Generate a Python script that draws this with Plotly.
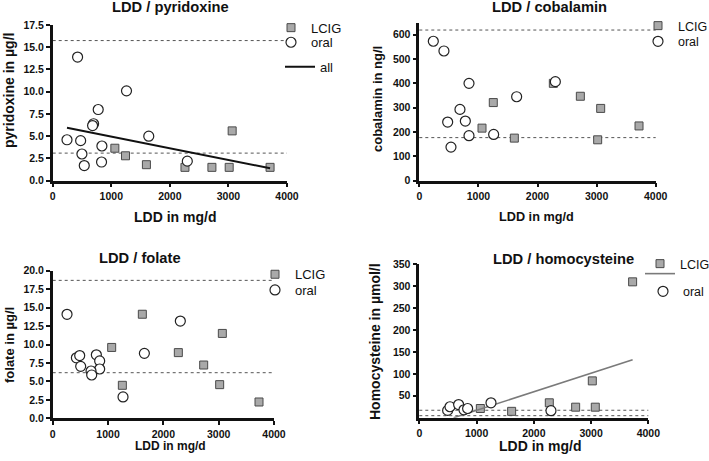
import plotly.graph_objects as go

W, H = 709, 461

# ---------------- data ----------------
pyr_oral_x = [425, 1260, 777, 698, 681, 244, 477, 840, 1640, 499, 539, 834, 2298]
pyr_oral_y = [13.9, 10.1, 8.0, 6.4, 6.2, 4.6, 4.5, 3.9, 5.0, 3.0, 1.7, 2.1, 2.2]
pyr_lcig_x = [1061, 1243, 1600, 2258, 2718, 3013, 3064, 3711]
pyr_lcig_y = [3.65, 2.8, 1.8, 1.5, 1.5, 1.5, 5.6, 1.5]
pyr_fit_x = [244, 3711]
pyr_fit_y = [5.95, 1.4]
pyr_ref = [3.1, 15.75]

cob_oral_x = [237, 417, 841, 688, 480, 779, 841, 536, 1258, 1647, 2302]
cob_oral_y = [573, 533, 400, 293, 241, 245, 185, 138, 190, 345, 407]
cob_lcig_x = [1061, 1252, 1608, 2268, 2725, 3069, 3018, 3718]
cob_lcig_y = [216, 321, 175, 400, 347, 297, 168, 225]
cob_ref = [177, 619]

fol_oral_x = [259, 2307, 1657, 428, 488, 506, 789, 849, 849, 693, 705, 1271]
fol_oral_y = [14.09, 13.18, 8.8, 8.2, 8.5, 7.04, 8.6, 7.77, 6.68, 6.41, 5.87, 2.89]
fol_lcig_x = [1066, 1620, 1259, 2271, 2729, 3066, 3018, 3729]
fol_lcig_y = [9.6, 14.1, 4.47, 8.9, 7.22, 11.5, 4.56, 2.21]
fol_ref = [6.18, 18.69]

hcy_oral_x = [495, 536, 687, 780, 844, 1252, 2300]
hcy_oral_y = [16.7, 25, 30, 18, 21, 34, 16]
hcy_lcig_x = [1066, 1613, 2271, 2731, 3074, 3022, 3726]
hcy_lcig_y = [21, 14.5, 34, 24, 24, 84, 310]
hcy_fit_x = [600, 3726]
hcy_fit_y = [0, 132]
hcy_ref = [4.6, 17]

x_ticks = [0, 1000, 2000, 3000, 4000]
pyr_yticks = [0, 2.5, 5, 7.5, 10, 12.5, 15, 17.5]
cob_yticks = [0, 100, 200, 300, 400, 500, 600]
fol_yticks = [0, 2.5, 5, 7.5, 10, 12.5, 15, 17.5, 20]
hcy_yticks = [50, 100, 150, 200, 250, 300, 350]

titles = ["LDD / pyridoxine", "LDD / cobalamin", "LDD / folate", "LDD / homocysteine"]
ytitles = ["pyridoxine in µg/l", "cobalamin in ng/l", "folate in µg/l", "Homocysteine in µmol/l"]
xtitle = "LDD in mg/d"

FONT = "Liberation Sans, Arial, sans-serif"

def px(xp):
    return xp / W

def py(yp):
    return 1 - yp / H

fig = go.Figure()

sq = dict(symbol="square", size=8, color="#a9a9a9", line=dict(color="#4a4a4a", width=1))
ci = dict(symbol="circle", size=10, color="white", line=dict(color="#222222", width=1.2))

panels = [
    dict(lx=pyr_lcig_x, ly=pyr_lcig_y, ox=pyr_oral_x, oy=pyr_oral_y, ref=pyr_ref),
    dict(lx=cob_lcig_x, ly=cob_lcig_y, ox=cob_oral_x, oy=cob_oral_y, ref=cob_ref),
    dict(lx=fol_lcig_x, ly=fol_lcig_y, ox=fol_oral_x, oy=fol_oral_y, ref=fol_ref),
    dict(lx=hcy_lcig_x, ly=hcy_lcig_y, ox=hcy_oral_x, oy=hcy_oral_y, ref=hcy_ref),
]

# legend item positions: (text start px, center y px, font size)
leg_pos = [
    [(309, 27.7, 13), (309, 42.3, 13)],
    [(676, 26, 12.5), (676, 41.7, 12.5)],
    [(293, 274.3, 13), (293, 290, 13)],
    [(678, 264, 12.5), (681, 291.7, 12.5)],
]

legends = {}
lcount = [0]

def new_legend(tx, ty, fs):
    lcount[0] += 1
    key = "legend" if lcount[0] == 1 else f"legend{lcount[0]}"
    legends[key] = dict(
        x=px(tx - 38), y=py(ty), xanchor="left", yanchor="middle",
        bgcolor="rgba(0,0,0,0)", borderwidth=0,
        font=dict(family=FONT, size=fs, color="#111"),
        itemsizing="trace",
    )
    return key

for i, p in enumerate(panels):
    xa = "x" if i == 0 else f"x{i+1}"
    ya = "y" if i == 0 else f"y{i+1}"
    k1 = new_legend(*leg_pos[i][0])
    fig.add_trace(go.Scatter(x=p["lx"], y=p["ly"], mode="markers", marker=sq, name="LCIG",
                             xaxis=xa, yaxis=ya, legend=k1, cliponaxis=False))
    if i == 3:
        k = new_legend(678, 274, 12.5)
        fig.add_trace(go.Scatter(x=hcy_fit_x, y=hcy_fit_y, mode="lines", name=" ",
                                 line=dict(color="#7a7a7a", width=1.6),
                                 xaxis=xa, yaxis=ya, legend=k))
    k2 = new_legend(*leg_pos[i][1])
    fig.add_trace(go.Scatter(x=p["ox"], y=p["oy"], mode="markers", marker=ci, name="oral",
                             xaxis=xa, yaxis=ya, legend=k2, cliponaxis=False))
    if i == 0:
        k = new_legend(318, 66.7, 13)
        fig.add_trace(go.Scatter(x=pyr_fit_x, y=pyr_fit_y, mode="lines", name="all",
                                 line=dict(color="#111", width=2),
                                 xaxis=xa, yaxis=ya, legend=k))
    for r in p["ref"]:
        fig.add_shape(type="line", xref=f"{xa} domain", yref=ya, x0=0, x1=1, y0=r, y1=r,
                      line=dict(color="#555", width=1, dash="dot"), layer="below")

# domains (px)
dom = [
    dict(x=(52.7, 287), y=(180.7, 25), yr=[0, 17.5], yt=pyr_yticks, fmt=".1f"),
    dict(x=(419.3, 655.7), y=(180.7, 22.5), yr=[0, 650], yt=cob_yticks, fmt="d"),
    dict(x=(52.7, 274), y=(418.3, 270.7), yr=[0, 20], yt=fol_yticks, fmt=".1f"),
    dict(x=(419.3, 648.3), y=(417.7, 264.3), yr=[0, 350], yt=hcy_yticks, fmt="d"),
]

axis_common = dict(showline=True, linecolor="#111", linewidth=2.5, ticks="outside",
                   ticklen=4, tickwidth=2, tickcolor="#111", showgrid=False, zeroline=False,
                   tickfont=dict(family=FONT, size=10.5, color="#111", weight="bold"))

layout = dict(width=W, height=H, margin=dict(l=0, r=0, t=0, b=0, autoexpand=False),
              plot_bgcolor="white", paper_bgcolor="white", showlegend=True)

for i, d in enumerate(dom):
    xk = "xaxis" if i == 0 else f"xaxis{i+1}"
    yk = "yaxis" if i == 0 else f"yaxis{i+1}"
    xa = "x" if i == 0 else f"x{i+1}"
    ya = "y" if i == 0 else f"y{i+1}"
    layout[xk] = dict(domain=[px(d["x"][0]), px(d["x"][1])], range=[0, 4000],
                      tickvals=x_ticks, anchor=ya, **axis_common)
    layout[yk] = dict(domain=[py(d["y"][0]), py(d["y"][1])], range=d["yr"],
                      tickvals=d["yt"], tickformat=d["fmt"], anchor=xa, **axis_common)

layout.update(legends)
fig.update_layout(**layout)

# titles
title_pos = [(170, 7, 14.7), (549, 7, 14.7), (140, 258, 14.7), (563, 259, 14.7)]
xt_pos = [(174.5, 217, 14), (536.5, 216.7, 12.7), (170, 446, 12), (540, 446, 14)]
yt_pos = [(9, 91, 14), (378, 99, 13), (9, 345, 13), (375, 341, 14)]

for i in range(4):
    tx, ty, fs = title_pos[i]
    fig.add_annotation(text=titles[i], x=px(tx), y=py(ty), xref="paper", yref="paper",
                       showarrow=False, xanchor="center", yanchor="middle",
                       font=dict(family=FONT, size=fs, color="#111", weight="bold"))
    tx, ty, fs = xt_pos[i]
    fig.add_annotation(text=xtitle, x=px(tx), y=py(ty), xref="paper", yref="paper",
                       showarrow=False, xanchor="center", yanchor="middle",
                       font=dict(family=FONT, size=fs, color="#111", weight="bold"))
    tx, ty, fs = yt_pos[i]
    fig.add_annotation(text=ytitles[i], x=px(tx), y=py(ty), xref="paper", yref="paper",
                       showarrow=False, xanchor="center", yanchor="middle", textangle=-90,
                       font=dict(family=FONT, size=fs, color="#111", weight="bold"))

fig.write_html("out.html", config={"displayModeBar": False},
               post_script="document.body.style.margin='0px';document.body.style.overflow='hidden';")
